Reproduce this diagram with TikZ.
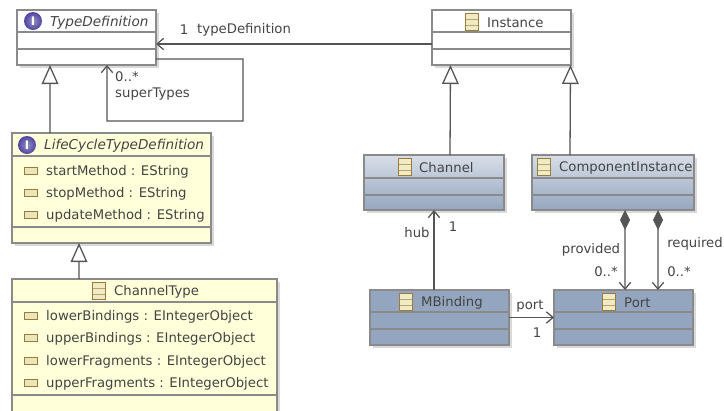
\documentclass[tikz,border=0pt]{standalone}
\usepackage{fontspec}
\setmainfont{DejaVu Sans}
\usetikzlibrary{arrows.meta,shadows}
\definecolor{umlline}{HTML}{8A8A8A}
\definecolor{umlwire}{HTML}{555555}
\definecolor{umltext}{HTML}{444444}
\definecolor{umlyellow}{HTML}{FFFFD9}
\definecolor{umlblue}{HTML}{94A6BF}
\definecolor{umlpale}{HTML}{D8DEE8}
\definecolor{umlbrown}{HTML}{9A7B3E}
\definecolor{umlviolet}{HTML}{4F459F}
\tikzset{
    umlbox/.style={draw=umlline,line width=0.9pt,inner sep=0pt,outer sep=0pt,anchor=north west,
        drop shadow={shadow xshift=0.09cm,shadow yshift=-0.09cm,fill=black!15,opacity=1}},
    whitebox/.style={umlbox,fill=white,minimum width=4.17cm,minimum height=1.65cm},
    yellowbox/.style={umlbox,fill=umlyellow},
    shadedbox/.style={umlbox,top color=umlpale,bottom color=umlblue,minimum height=1.65cm},
    bluebox/.style={umlbox,fill=umlblue,minimum width=4.17cm,minimum height=1.65cm},
    txt/.style={text=umltext,font=\fontsize{11.3}{13}\selectfont,inner sep=0pt},
    lefttxt/.style={txt,anchor=west},
    slanttxt/.style={lefttxt,font=\fontsize{11.6}{13}\selectfont\itshape},
    classicon/.style={draw=umlbrown,fill=umlyellow!85!umlbrown,line width=0.8pt,inner sep=0pt,
        minimum width=0.37cm,minimum height=0.53cm,
        path picture={\draw[umlbrown!70,line width=0.5pt]
            ([yshift=0.09cm]path picture bounding box.west) -- ([yshift=0.09cm]path picture bounding box.east)
            ([yshift=-0.09cm]path picture bounding box.west) -- ([yshift=-0.09cm]path picture bounding box.east);}},
    attricon/.style={draw=umlbrown,fill=umlyellow!80!umlbrown,line width=0.8pt,inner sep=0pt,
        minimum width=0.37cm,minimum height=0.19cm},
    ifaceicon/.style={circle,inner color=umlviolet!60,outer color=umlviolet,text=white,inner sep=0pt,minimum size=0.54cm,
        font=\bfseries\fontsize{10}{10}\selectfont},
    wire/.style={draw=umlwire,line width=1.1pt},
    inherit/.style={wire,-{Triangle[open,fill=white,length=0.57cm,width=0.5cm]}},
    assoc/.style={wire,-{Straight Barb[length=0.2cm,width=0.34cm]}},
    compose/.style={wire,{Diamond[fill=umlwire,length=0.6cm,width=0.3cm]}-{Straight Barb[length=0.2cm,width=0.34cm]}}
}
\begin{document}
\begin{tikzpicture}[x=0.03cm,y=-0.03cm]
    \useasboundingbox (0,0) rectangle (724,410);
    \clip (0,0) rectangle (724,410);

    % boxes
    \node[whitebox] (typedefinition) at (17,10) {};
    \node[whitebox] (instance) at (432,10) {};
    \node[yellowbox,minimum width=5.97cm,minimum height=3.3cm] (lifecycle) at (12,133) {};
    \node[yellowbox,minimum width=7.95cm,minimum height=4.2cm] (channeltype) at (12,279) {};
    \node[shadedbox,minimum width=4.2cm] (channel) at (364,155) {};
    \node[shadedbox,minimum width=4.86cm] (component) at (532,155) {};
    \node[bluebox] (mbinding) at (370,290) {};
    \node[bluebox] (port) at (554,290) {};

    % compartments
    \draw[umlline,line width=0.9pt] (typedefinition.west |- 0,32) -- (typedefinition.east |- 0,32)
                                    (typedefinition.west |- 0,49) -- (typedefinition.east |- 0,49)
                                    (instance.west |- 0,32) -- (instance.east |- 0,32)
                                    (instance.west |- 0,49) -- (instance.east |- 0,49)
                                    (lifecycle.west |- 0,156) -- (lifecycle.east |- 0,156)
                                    (lifecycle.west |- 0,227) -- (lifecycle.east |- 0,227)
                                    (channeltype.west |- 0,302) -- (channeltype.east |- 0,302)
                                    (channeltype.west |- 0,395) -- (channeltype.east |- 0,395)
                                    (channel.west |- 0,178) -- (channel.east |- 0,178)
                                    (channel.west |- 0,195) -- (channel.east |- 0,195)
                                    (component.west |- 0,178) -- (component.east |- 0,178)
                                    (component.west |- 0,195) -- (component.east |- 0,195)
                                    (mbinding.west |- 0,312) -- (mbinding.east |- 0,312)
                                    (mbinding.west |- 0,329) -- (mbinding.east |- 0,329)
                                    (port.west |- 0,312) -- (port.east |- 0,312)
                                    (port.west |- 0,329) -- (port.east |- 0,329);

    % titles
    \node[ifaceicon] (typedefinitionicon) at (33,21) {I};
    \node[slanttxt] (typedefinitionname) at (50,23) {TypeDefinition};
    \node[classicon] (instanceicon) at (472,22) {};
    \node[lefttxt] (instancename) at (487,23) {Instance};
    \node[ifaceicon] (lifecycleicon) at (27,145) {I};
    \node[slanttxt] (lifecyclename) at (44,146) {LifeCycleTypeDefinition};
    \node[classicon] (channeltypeicon) at (99,291) {};
    \node[lefttxt] (channeltypename) at (114,292) {ChannelType};
    \node[classicon] (channelicon) at (405,167) {};
    \node[lefttxt] (channelname) at (419,168) {Channel};
    \node[classicon] (componenticon) at (544,167) {};
    \node[lefttxt] (componentname) at (559,168) {ComponentInstance};
    \node[classicon] (mbindingicon) at (406,302) {};
    \node[lefttxt] (mbindingname) at (421,303) {MBinding};
    \node[classicon] (porticon) at (609,302) {};
    \node[lefttxt] (portname) at (624,303) {Port};

    % attributes
    \node[attricon] (starticon) at (31,171) {};
    \node[lefttxt] (startattr) at (46,172) {startMethod : EString};
    \node[attricon] (stopicon) at (31,193) {};
    \node[lefttxt] (stopattr) at (46,194) {stopMethod : EString};
    \node[attricon] (updateicon) at (31,215) {};
    \node[lefttxt] (updateattr) at (46,216) {updateMethod : EString};
    \node[attricon] (lowerbicon) at (31,316) {};
    \node[lefttxt] (lowerbattr) at (46,317) {lowerBindings : EIntegerObject};
    \node[attricon] (upperbicon) at (31,338) {};
    \node[lefttxt] (upperbattr) at (46,339) {upperBindings : EIntegerObject};
    \node[attricon] (lowerficon) at (31,361) {};
    \node[lefttxt] (lowerfattr) at (46,362) {lowerFragments : EIntegerObject};
    \node[attricon] (upperficon) at (31,383) {};
    \node[lefttxt] (upperfattr) at (46,384) {upperFragments : EIntegerObject};

    % connectors
    \coordinate (loopright) at (243,59);
    \coordinate (loopleft) at (107,121);
    \draw[inherit] ([xshift=-1.845cm]lifecycle.north) -- ([xshift=-1.095cm]typedefinition.south);
    \draw[inherit] ([xshift=-1.965cm]channeltype.north) -- ([xshift=-0.975cm]lifecycle.south);
    \draw[inherit] ([xshift=0.48cm]channel.north) -- ([xshift=-1.53cm]instance.south);
    \draw[inherit] ([xshift=-1.29cm]component.north) -- ([xshift=2.07cm]instance.south);
    \draw[assoc] ([yshift=-0.195cm]instance.west) -- ([yshift=-0.195cm]typedefinition.east);
    \draw[assoc] ([yshift=-0.645cm]typedefinition.east) -- (loopright) -- (loopright |- loopleft) -- (loopleft) -- ([xshift=0.615cm]typedefinition.south);
    \draw[assoc] ([xshift=-0.165cm]mbinding.north) -- (channel.south);
    \draw[assoc] (mbinding.east) -- (port.west);
    \draw[compose] ([xshift=0.36cm]component.south) -- ([xshift=0.045cm]port.north);
    \draw[compose] ([xshift=1.35cm]component.south) -- ([xshift=1.035cm]port.north);

    % labels
    \node[txt] (typeone) at (184,30) {1};
    \node[lefttxt] (typelabel) at (197,30) {typeDefinition};
    \node[lefttxt] (supermany) at (115,77) {0..*};
    \node[lefttxt] (superlabel) at (115,94) {superTypes};
    \node[txt] (hublabel) at (417,233) {hub};
    \node[txt] (hubone) at (453,227) {1};
    \node[txt] (providedlabel) at (591,250) {provided};
    \node[txt] (providedmany) at (606,272) {0..*};
    \node[txt] (requiredlabel) at (695,244) {required};
    \node[txt] (requiredmany) at (679,272) {0..*};
    \node[txt] (portlabel) at (530,306) {port};
    \node[txt] (portone) at (537,333) {1};
\end{tikzpicture}
\end{document}
